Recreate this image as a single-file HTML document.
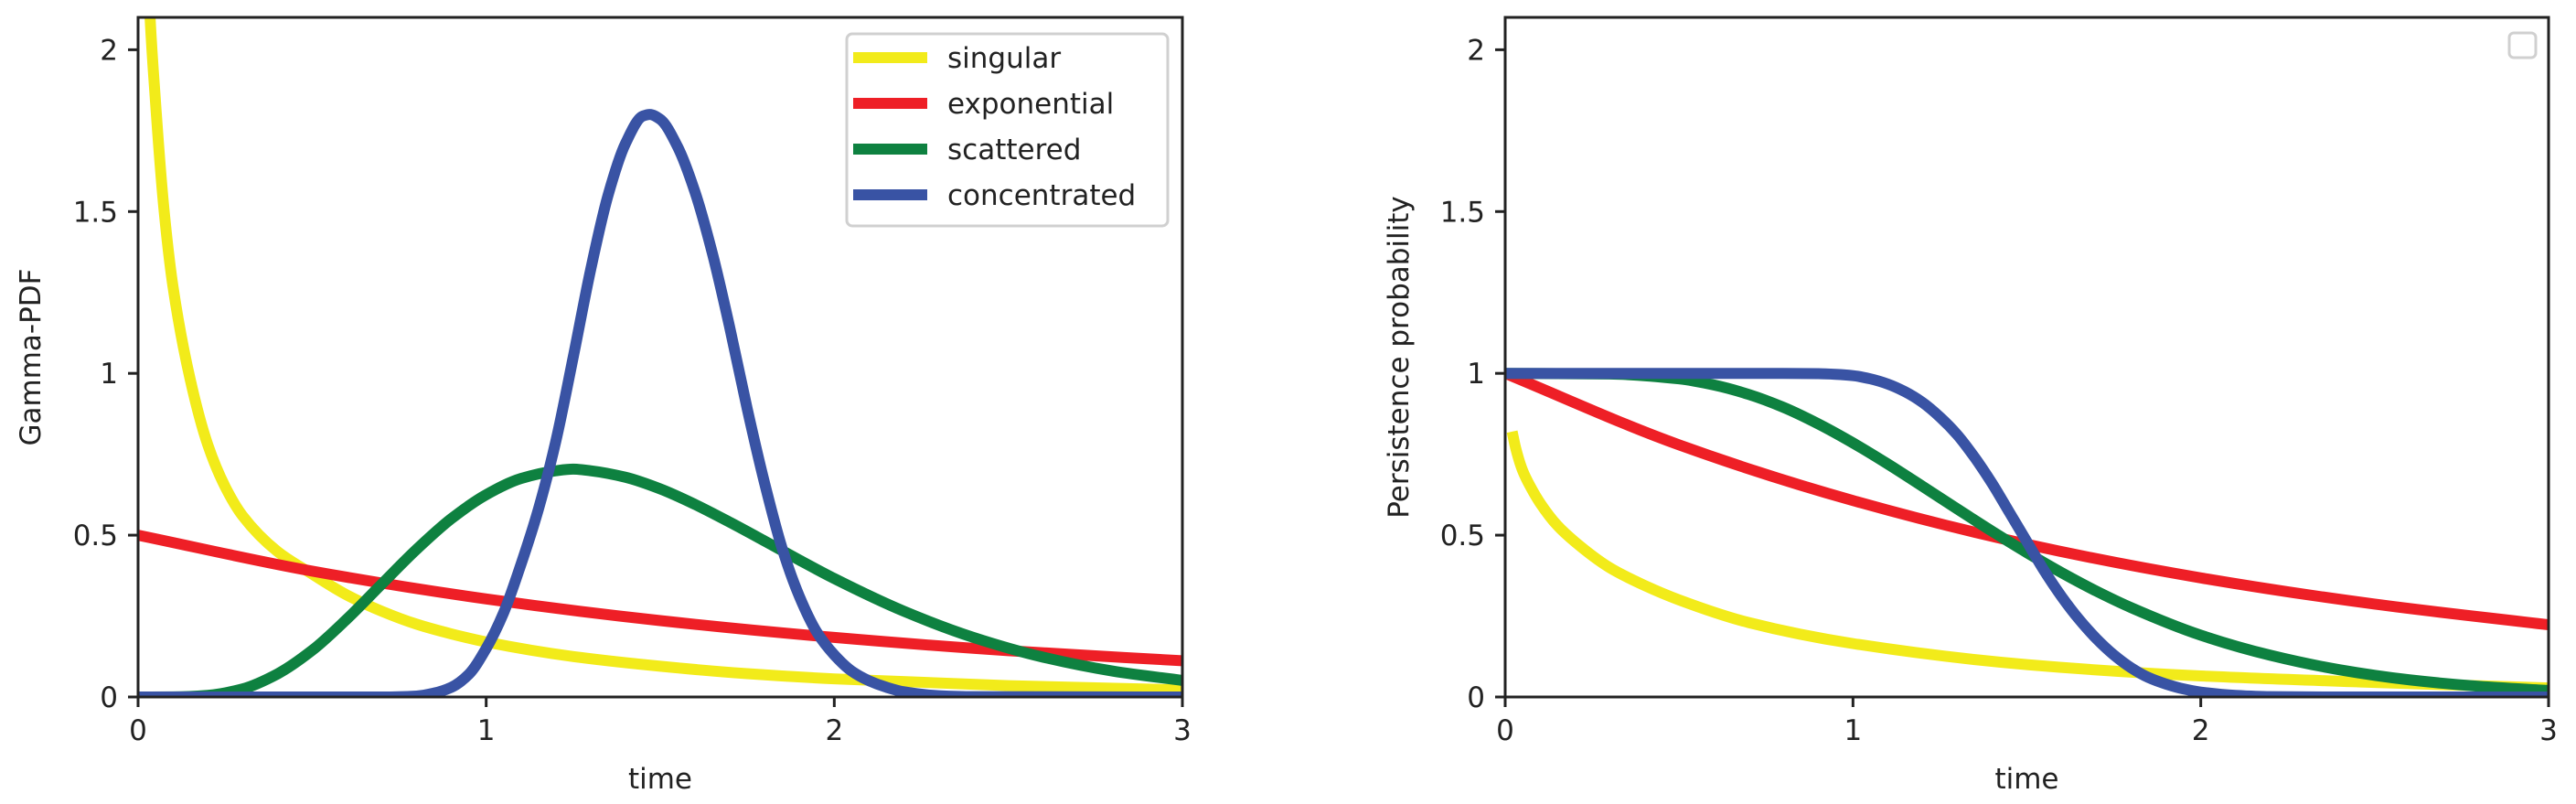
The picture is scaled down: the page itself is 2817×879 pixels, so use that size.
<!DOCTYPE html>
<html><head><meta charset="utf-8"><style>
html,body{margin:0;padding:0;background:#fff;}
svg{display:block;font-family:"DejaVu Sans","Liberation Sans",sans-serif;}
</style></head><body>
<svg id="fig" width="2817" height="879" viewBox="0 0 2817 879" xmlns="http://www.w3.org/2000/svg"></svg>
<script>
const seriesNames = ["singular","exponential","scattered","concentrated"];
const seriesColors = ["#f2eb1a","#ee1f26","#0e8140","#3953a4"];
const xTicks = [0,1,2,3];
const yTicks = [0,0.5,1,1.5,2];
const yTickLabels = ["0","0.5","1","1.5","2"];
const xTickLabels = ["0","1","2","3"];

// Left panel: Gamma-PDF
const pdfSingularT = [0.02,0.03,0.05,0.075,0.1,0.15,0.2,0.25,0.3,0.4,0.5,0.6,0.7,0.8,0.9,1.0,1.25,1.5,1.75,2.0,2.5,3.0];
const pdfSingularV = [2.6,2.2,1.84,1.5,1.27,0.98,0.78,0.65,0.56,0.45,0.38,0.315,0.265,0.225,0.195,0.17,0.125,0.095,0.072,0.056,0.035,0.022];
const pdfExpT = [0,0.5,1,1.5,2,2.5,3];
const pdfExpV = [0.5,0.389,0.303,0.236,0.184,0.143,0.112];
const pdfScatT = [0,0.1,0.2,0.3,0.4,0.5,0.6,0.7,0.8,0.9,1.0,1.1,1.2,1.25,1.3,1.4,1.5,1.6,1.7,1.8,1.9,2.0,2.2,2.4,2.6,2.8,3.0];
const pdfScatV = [0,0.0003,0.005,0.025,0.071,0.144,0.241,0.349,0.456,0.551,0.625,0.675,0.699,0.704,0.699,0.679,0.643,0.595,0.540,0.482,0.423,0.366,0.265,0.184,0.123,0.080,0.051];
const pdfConcT = [0,0.7,0.8,0.85,0.9,0.95,1.0,1.05,1.1,1.15,1.2,1.25,1.3,1.35,1.4,1.45,1.47,1.5,1.55,1.6,1.65,1.7,1.75,1.8,1.85,1.9,1.95,2.0,2.05,2.1,2.15,2.2,2.3,2.4,3.0];
const pdfConcV = [0,0,0.003,0.012,0.03,0.07,0.15,0.26,0.41,0.58,0.79,1.05,1.32,1.55,1.71,1.795,1.80,1.785,1.7,1.56,1.37,1.14,0.89,0.66,0.46,0.31,0.2,0.13,0.08,0.05,0.03,0.016,0.004,0.001,0];

// Right panel: persistence probability
const surSingularT = [0.02,0.03,0.05,0.075,0.1,0.15,0.2,0.3,0.4,0.5,0.7,1.0,1.5,2.0,2.5,3.0];
const surSingularV = [0.82,0.77,0.70,0.645,0.6,0.53,0.48,0.40,0.345,0.30,0.23,0.165,0.10,0.065,0.045,0.028];
const surExpT = [0,0.5,1,1.5,2,2.5,3];
const surExpV = [1,0.779,0.607,0.472,0.368,0.287,0.223];
const surScatT = [0,0.3,0.5,0.6,0.7,0.8,0.9,1.0,1.1,1.2,1.3,1.4,1.5,1.6,1.7,1.8,2.0,2.2,2.4,2.6,2.8,3.0];
const surScatV = [1,0.998,0.983,0.964,0.935,0.895,0.844,0.785,0.72,0.651,0.581,0.512,0.446,0.384,0.327,0.276,0.191,0.129,0.084,0.053,0.033,0.02];
const surConcT = [0,0.8,0.9,0.95,1.0,1.05,1.1,1.15,1.2,1.25,1.3,1.35,1.4,1.45,1.5,1.55,1.6,1.65,1.7,1.75,1.8,1.85,1.9,1.95,2.0,2.1,2.2,2.4,3.0];
const surConcV = [1,1,0.999,0.997,0.993,0.983,0.967,0.943,0.91,0.865,0.81,0.74,0.66,0.57,0.48,0.39,0.31,0.24,0.18,0.13,0.09,0.06,0.04,0.025,0.015,0.005,0.001,0,0];

const NS="http://www.w3.org/2000/svg";
const svg=document.getElementById('fig');
function mk(tag,attrs,parent){const e=document.createElementNS(NS,tag);for(const k in attrs)e.setAttribute(k,attrs[k]);(parent||svg).appendChild(e);return e;}

function monotonePath(pts){
  const n=pts.length;
  const dx=[],m=[];
  for(let i=0;i<n-1;i++){dx.push(pts[i+1][0]-pts[i][0]);m.push((pts[i+1][1]-pts[i][1])/dx[i]);}
  const t=new Array(n);
  t[0]=m[0];t[n-1]=m[n-2];
  for(let i=1;i<n-1;i++){
    if(m[i-1]*m[i]<=0)t[i]=0;
    else{const w1=2*dx[i]+dx[i-1],w2=dx[i]+2*dx[i-1];t[i]=(w1+w2)/(w1/m[i-1]+w2/m[i]);}
  }
  let d='M'+pts[0][0]+','+pts[0][1];
  for(let i=0;i<n-1;i++){
    const h=dx[i]/3;
    d+=' C'+(pts[i][0]+h)+','+(pts[i][1]+t[i]*h)+' '+(pts[i+1][0]-h)+','+(pts[i+1][1]-t[i+1]*h)+' '+pts[i+1][0]+','+pts[i+1][1];
  }
  return d;
}

function panel(px0,px1,py0,py1,ylabel,ylabelX,series,prefix,legendFull){
  const xs=v=>px0+(v/3)*(px1-px0);
  const ys=v=>py1-(v/2.1)*(py1-py0);
  const g=mk('g',{});
  
  
  const cid=prefix+'-clip';
  const cp=mk('clipPath',{id:cid},g);
  mk('rect',{x:px0,y:py0,width:px1-px0,height:py1-py0},cp);
  const lines=mk('g',{'clip-path':'url(#'+cid+')'},g);
  series.forEach((s,i)=>{
    const T=s[0],V=s[1];
    const pts=T.map((t,j)=>[xs(t),ys(V[j])]);
    const p=mk('path',{d:monotonePath(pts),fill:'none',stroke:seriesColors[i],'stroke-width':12,'stroke-linejoin':'round'},lines);
    
    
  });
  const fr=mk('rect',{x:px0,y:py0,width:px1-px0,height:py1-py0,fill:'none',stroke:'#222','stroke-width':3},g);
  
  
  xTicks.forEach((t,i)=>{
    mk('line',{x1:xs(t),x2:xs(t),y1:py1,y2:py1+11,stroke:'#222','stroke-width':3},g);
    const tx=mk('text',{x:xs(t),y:py1+47,'text-anchor':'middle','font-size':31,fill:'#222'},g);
    tx.textContent=xTickLabels[i];
    
    
  });
  yTicks.forEach((t,i)=>{
    mk('line',{x1:px0-11,x2:px0,y1:ys(t),y2:ys(t),stroke:'#222','stroke-width':3},g);
    const tx=mk('text',{x:px0-22,y:ys(t)+11,'text-anchor':'end','font-size':31,fill:'#222'},g);
    tx.textContent=yTickLabels[i];
    
    
  });
  const xl=mk('text',{x:(px0+px1)/2,y:862,'text-anchor':'middle','font-size':31,fill:'#222'},g);
  xl.textContent='time';
  
  
  const cy=(py0+py1)/2;
  const yl=mk('text',{x:ylabelX,y:cy,'text-anchor':'middle','font-size':31,fill:'#222',transform:'rotate(-90 '+ylabelX+' '+cy+')'},g);
  yl.textContent=ylabel;
  
  
  if(legendFull){
    const lg=mk('g',{},g);
    
    
    mk('rect',{x:926,y:37,width:351,height:210,rx:6,fill:'#fff','fill-opacity':0.85,stroke:'#d0d0d0','stroke-width':3},lg);
    seriesNames.forEach((n,i)=>{
      const y=63+i*50;
      const e=mk('g',{},lg);
      
      
      mk('line',{x1:933,x2:1014,y1:y,y2:y,stroke:seriesColors[i],'stroke-width':12},e);
      const t=mk('text',{x:1036,y:y+11,'font-size':31,fill:'#222'},e);
      t.textContent=n;
    });
  } else {
    const lg=mk('rect',{x:2744,y:36,width:29,height:27,rx:5,fill:'#fff',stroke:'#d0d0d0','stroke-width':3},g);
    
    
  }
}
panel(151,1293,19,762,'Gamma-PDF',44,
  [[pdfSingularT,pdfSingularV],[pdfExpT,pdfExpV],[pdfScatT,pdfScatV],[pdfConcT,pdfConcV]],'pdf',true);
panel(1646,2787,19,762,'Persistence probability',1540,
  [[surSingularT,surSingularV],[surExpT,surExpV],[surScatT,surScatV],[surConcT,surConcV]],'persistence',false);
</script>
</body></html>
